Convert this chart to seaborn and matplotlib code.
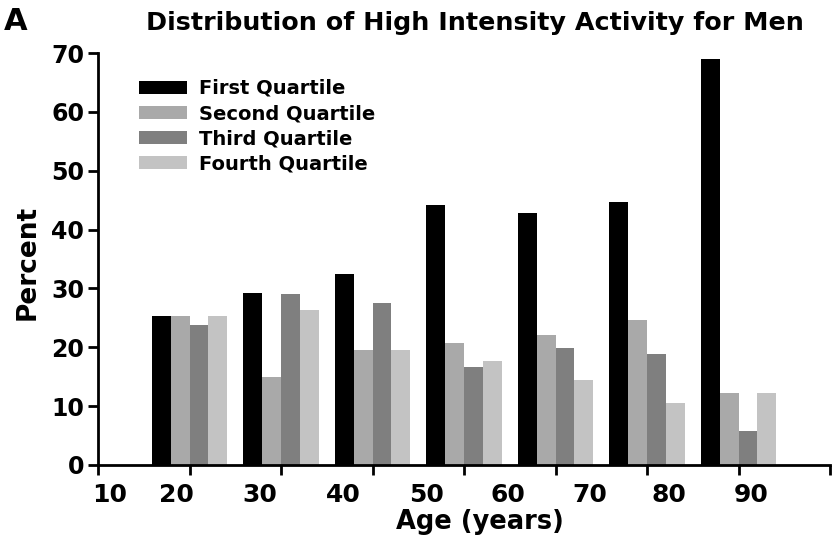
import numpy as np
import pandas as pd
import matplotlib
matplotlib.use("Agg")
import matplotlib.pyplot as plt
import seaborn as sns

# ---- data ----
groups = ["G1", "G2", "G3", "G4", "G5", "G6", "G7"]
quartiles = ["First Quartile", "Second Quartile", "Third Quartile", "Fourth Quartile"]
first_q = [25.3, 29.2, 32.5, 44.2, 42.9, 44.7, 69.0]
second_q = [25.4, 15.0, 19.6, 20.8, 22.1, 24.6, 12.2]
third_q = [23.8, 29.0, 27.6, 16.7, 19.9, 18.8, 5.8]
fourth_q = [25.3, 26.4, 19.6, 17.7, 14.5, 10.6, 12.2]
x_tick_labels = ["10", "20", "30", "40", "50", "60", "70", "80", "90"]
y_ticks = [0, 10, 20, 30, 40, 50, 60, 70]

colors = ["#000000", "#a9a9a9", "#7f7f7f", "#c3c3c3"]

rows = []
for q, vals in zip(quartiles, [first_q, second_q, third_q, fourth_q]):
    for g, v in zip(groups, vals):
        rows.append({"group": g, "quartile": q, "percent": v})
df = pd.DataFrame(rows)

sns.set_style("ticks")
plt.rcParams["font.family"] = ["DejaVu Sans"]
plt.rcParams["text.color"] = "black"
plt.rcParams["axes.labelcolor"] = "black"
plt.rcParams["xtick.color"] = "black"
plt.rcParams["ytick.color"] = "black"

fig = plt.figure(figsize=(8.33, 5.39), dpi=100)
ax = fig.add_axes([98 / 833, 74 / 539, 732 / 833, 412 / 539])

sns.barplot(data=df, x="group", y="percent", hue="quartile", order=groups,
            hue_order=quartiles, palette=colors, saturation=1, width=0.82,
            linewidth=0, ax=ax)

ax.set_xlim(-1, 7)
ax.set_ylim(0, 70)

# major ticks (unlabelled, evenly spaced), labels placed as in the reference
ax.set_xticks(np.arange(-1, 8))
ax.set_xticklabels([""] * 9)
label_pos = [-0.869, -0.148, 0.770, 1.678, 2.585, 3.481, 4.377, 5.240, 6.137]
ax.set_xticks(label_pos, minor=True)
ax.set_xticklabels(x_tick_labels, minor=True, fontsize=18, fontweight="bold")
ax.tick_params(axis="x", which="minor", length=0, pad=13)
ax.tick_params(axis="x", which="major", length=7, width=2, direction="out")

ax.set_yticks(y_ticks)
ax.set_yticklabels([str(t) for t in y_ticks], fontsize=17, fontweight="bold")
ax.tick_params(axis="y", length=7, width=2, direction="out", pad=3)

for s in ["top", "right"]:
    ax.spines[s].set_visible(False)
for s in ["left", "bottom"]:
    ax.spines[s].set_linewidth(2)
    ax.spines[s].set_color("black")

ax.set_xlabel("Age (years)", fontsize=18.5, fontweight="bold")
ax.xaxis.set_label_coords((480 - 98) / 732, -(509 - 465) / 412)
ax.set_ylabel("Percent", fontsize=19, fontweight="bold")
ax.yaxis.set_label_coords(-(98 - 41) / 732, (465 - 262) / 412)

sns.move_legend(ax, loc="upper left",
                bbox_to_anchor=((139 - 98) / 732, (465 - 79) / 412),
                frameon=False, title=None,
                prop={"weight": "bold", "size": 14},
                handlelength=2.47, handleheight=0.67, handletextpad=0.6,
                labelspacing=0.31, borderpad=0, borderaxespad=0)

fig.text(475 / 833, 1 - 23 / 539, "Distribution of High Intensity Activity for Men",
         ha="center", va="center", fontsize=18.3, fontweight="bold")
fig.text(4 / 833, 1 - 21 / 539, "A", ha="left", va="center", fontsize=22,
         fontweight="bold")

fig.savefig("out.png", dpi=100)
